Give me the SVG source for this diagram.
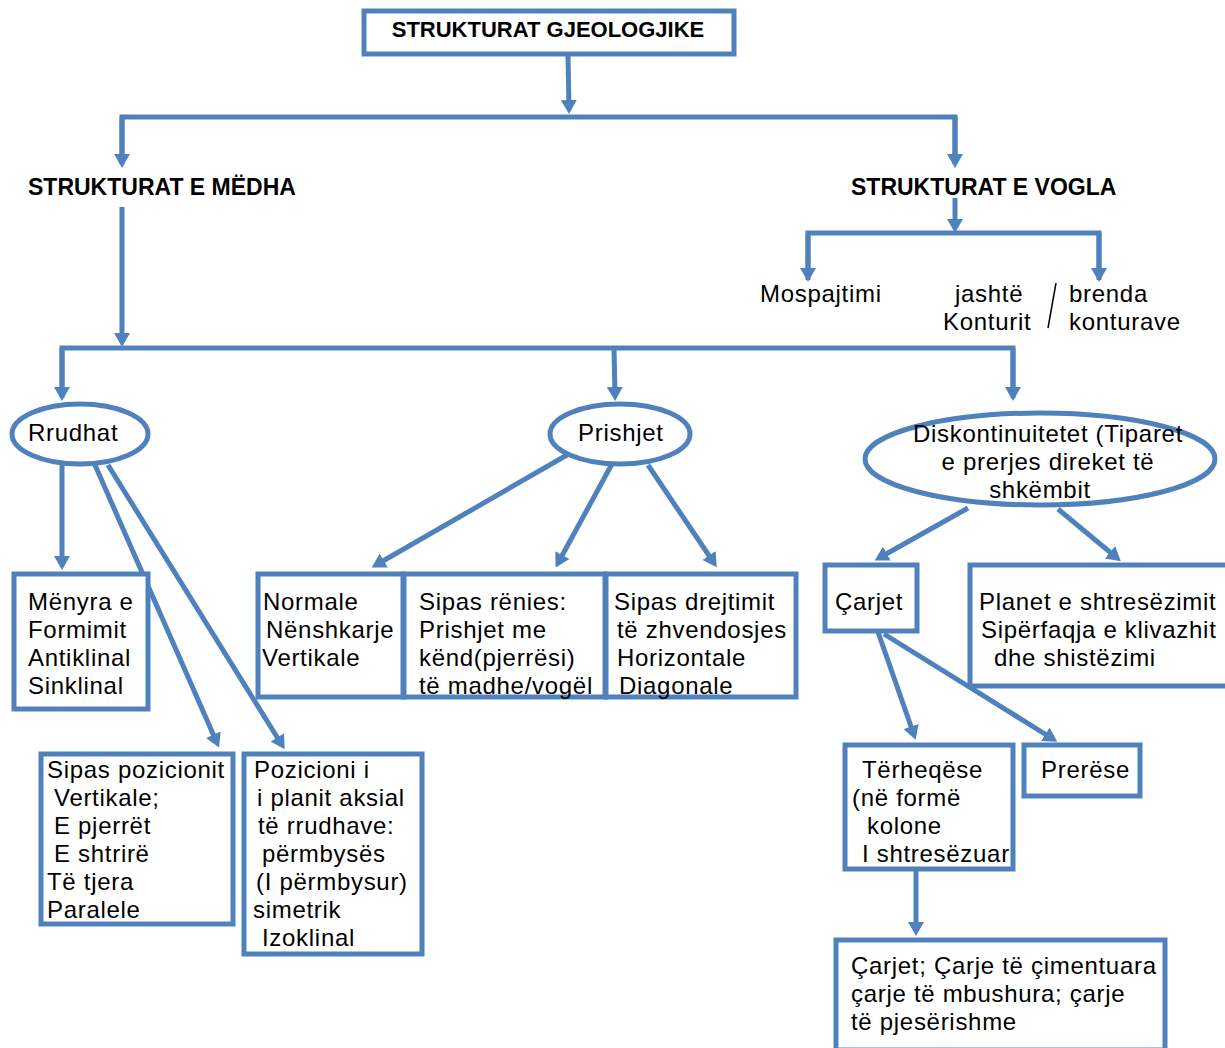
<svg xmlns="http://www.w3.org/2000/svg" width="1225" height="1048" viewBox="0 0 1225 1048">
<style>
.bx{fill:#fff;stroke:#4F81BD;stroke-width:5}
.el{fill:#fff;stroke:#4F81BD;stroke-width:5}
.c{fill:none;stroke:#4F81BD;stroke-width:5}
.t{font-family:"Liberation Sans",Arial,sans-serif;font-size:24px;letter-spacing:0.7px;fill:#000}
.h{font-family:"Liberation Sans",Arial,sans-serif;font-size:23px;font-weight:bold;fill:#000}
</style>
<defs>
<marker id="ah" viewBox="0 0 14 16" refX="9" refY="8" markerWidth="14" markerHeight="16" markerUnits="userSpaceOnUse" orient="auto">
<path d="M0,0 L14,8 L0,16 z" fill="#4F81BD"/>
</marker>
</defs>
<rect width="1225" height="1048" fill="#fff"/>
<g id="connectors">
<path class="c" d="M568,55 L569,109" marker-end="url(#ah)"/>
<path class="c" d="M122,164 L122,117 L955,117 L955,164"/>
<path class="c" d="M122,117 L122,163" marker-end="url(#ah)"/>
<path class="c" d="M955,117 L955,163" marker-end="url(#ah)"/>
<path class="c" d="M122,207 L122,342" marker-end="url(#ah)"/>
<path class="c" d="M62,398 L62,348 L1013,348 L1013,398"/>
<path class="c" d="M62,348 L62,396" marker-end="url(#ah)"/>
<path class="c" d="M614,348 L615,396" marker-end="url(#ah)"/>
<path class="c" d="M1013,348 L1013,396" marker-end="url(#ah)"/>
<path class="c" d="M955,198 L955,228" marker-end="url(#ah)"/>
<path class="c" d="M808,280 L808,233 L1099,233 L1099,280"/>
<path class="c" d="M808,233 L808,277" marker-end="url(#ah)"/>
<path class="c" d="M1099,233 L1099,277" marker-end="url(#ah)"/>
<path class="c" d="M1056,283 L1048,328" style="stroke:#000;stroke-width:1.5"/>
<path class="c" d="M62,465 L62,565" marker-end="url(#ah)"/>
<path class="c" d="M95,465 L217,743" marker-end="url(#ah)"/>
<path class="c" d="M108,465 L282,745" marker-end="url(#ah)"/>
<path class="c" d="M567,455 L376,565" marker-end="url(#ah)"/>
<path class="c" d="M612,464 L558,563" marker-end="url(#ah)"/>
<path class="c" d="M648,465 L714,563" marker-end="url(#ah)"/>
<path class="c" d="M968,508 L879,558" marker-end="url(#ah)"/>
<path class="c" d="M1058,509 L1117,558" marker-end="url(#ah)"/>
<path class="c" d="M878,632 L914,735" marker-end="url(#ah)"/>
<path class="c" d="M884,634 L1053,739" marker-end="url(#ah)"/>
<path class="c" d="M916,870 L916,931" marker-end="url(#ah)"/>
</g>
<g id="root">
<rect class="bx" x="364" y="11" width="370" height="43"/>
<text class="h" x="548" y="37" text-anchor="middle" style="font-size:22px">STRUKTURAT GJEOLOGJIKE</text>
</g>
<g id="medha">
<text class="h" x="28" y="195">STRUKTURAT E MËDHA</text>
</g>
<g id="vogla">
<text class="h" x="851" y="195">STRUKTURAT E VOGLA</text>
</g>
<g id="mospajtimi">
<text class="t" x="760" y="302">Mospajtimi</text>
</g>
<g id="jashte">
<text class="t" x="955" y="302">jashtë</text>
<text class="t" x="943" y="330">Konturit</text>
</g>
<g id="brenda">
<text class="t" x="1069" y="302">brenda</text>
<text class="t" x="1069" y="330">konturave</text>
</g>
<g id="rrudhat">
<ellipse class="el" cx="80" cy="434" rx="68" ry="30"/>
<text class="t" x="28" y="441">Rrudhat</text>
</g>
<g id="prishjet">
<ellipse class="el" cx="620" cy="434" rx="70" ry="30"/>
<text class="t" x="578" y="441">Prishjet</text>
</g>
<g id="diskontinuitetet">
<ellipse class="el" cx="1040" cy="459" rx="175" ry="46"/>
<text class="t" x="1048" y="442" text-anchor="middle">Diskontinuitetet (Tiparet</text>
<text class="t" x="1048" y="470" text-anchor="middle">e prerjes direket të</text>
<text class="t" x="1040" y="498" text-anchor="middle">shkëmbit</text>
</g>
<g id="menyra">
<rect class="bx" x="14" y="574" width="134" height="135"/>
<text class="t" x="28" y="610">Mënyra  e</text>
<text class="t" x="28" y="638">Formimit</text>
<text class="t" x="28" y="666">Antiklinal</text>
<text class="t" x="28" y="694">Sinklinal</text>
</g>
<g id="normale">
<rect class="bx" x="258" y="574" width="145" height="123"/>
<text class="t" x="263" y="610">Normale</text>
<text class="t" x="266" y="638">Nënshkarje</text>
<text class="t" x="262" y="666">Vertikale</text>
</g>
<g id="renies">
<rect class="bx" x="404" y="574" width="201" height="123"/>
<text class="t" x="419" y="610">Sipas rënies:</text>
<text class="t" x="419" y="638">Prishjet me</text>
<text class="t" x="419" y="666">kënd(pjerrësi)</text>
<text class="t" x="419" y="694">të madhe/vogël</text>
</g>
<g id="drejtimit">
<rect class="bx" x="606" y="574" width="190" height="123"/>
<text class="t" x="614" y="610">Sipas drejtimit</text>
<text class="t" x="617" y="638">të zhvendosjes</text>
<text class="t" x="617" y="666">Horizontale</text>
<text class="t" x="619" y="694">Diagonale</text>
</g>
<g id="carjet">
<rect class="bx" x="825" y="565" width="92" height="66"/>
<text class="t" x="835" y="610">Çarjet</text>
</g>
<g id="planet">
<rect class="bx" x="970" y="565" width="260" height="121"/>
<text class="t" x="979" y="610">Planet e shtresëzimit</text>
<text class="t" x="981" y="638">Sipërfaqja e klivazhit</text>
<text class="t" x="994" y="666">dhe shistëzimi</text>
</g>
<g id="pozicionit">
<rect class="bx" x="41" y="754" width="192" height="170"/>
<text class="t" x="47" y="778">Sipas pozicionit</text>
<text class="t" x="54" y="806">Vertikale;</text>
<text class="t" x="54" y="834">E pjerrët</text>
<text class="t" x="54" y="862">E shtrirë</text>
<text class="t" x="47" y="890">Të tjera</text>
<text class="t" x="47" y="918">Paralele</text>
</g>
<g id="pozicioni">
<rect class="bx" x="244" y="754" width="178" height="200"/>
<text class="t" x="254" y="778">Pozicioni i</text>
<text class="t" x="257" y="806">i planit aksial</text>
<text class="t" x="258" y="834">të rrudhave:</text>
<text class="t" x="262" y="862">përmbysës</text>
<text class="t" x="256" y="890">(I përmbysur)</text>
<text class="t" x="253" y="918">simetrik</text>
<text class="t" x="262" y="946">Izoklinal</text>
</g>
<g id="terheqese">
<rect class="bx" x="845" y="745" width="168" height="124"/>
<text class="t" x="862" y="778">Tërheqëse</text>
<text class="t" x="852" y="806">(në formë</text>
<text class="t" x="867" y="834">kolone</text>
<text class="t" x="862" y="862">I shtresëzuar</text>
</g>
<g id="prerese">
<rect class="bx" x="1024" y="745" width="116" height="51"/>
<text class="t" x="1041" y="778">Prerëse</text>
</g>
<g id="carje">
<rect class="bx" x="836" y="940" width="329" height="110"/>
<text class="t" x="851" y="974">Çarjet; Çarje të çimentuara</text>
<text class="t" x="851" y="1002">çarje të mbushura; çarje</text>
<text class="t" x="851" y="1030">të pjesërishme</text>
</g>
</svg>
